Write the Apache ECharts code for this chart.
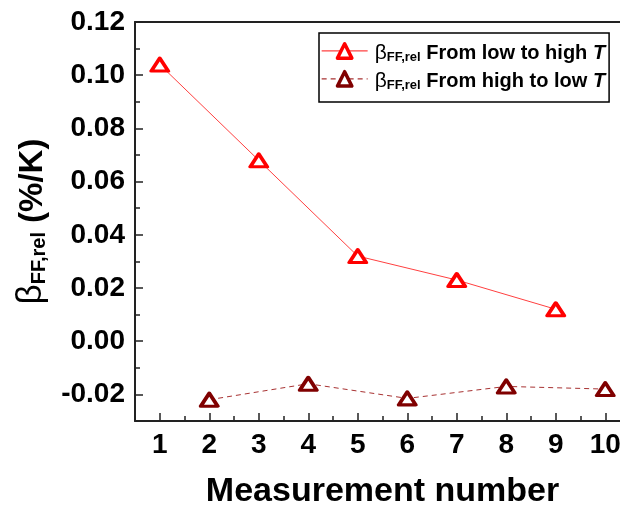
<!DOCTYPE html>
<html>
<head>
<meta charset="utf-8">
<script src="https://cdn.jsdelivr.net/npm/echarts@6/dist/echarts.min.js"></script>
<style>
  html, body { margin: 0; padding: 0; background: #fff; }
  #chart { width: 620px; height: 509px; }
</style>
</head>
<body>
<div id="chart"></div>
<script>
// Measurement numbers and temperature coefficients (%/K)
const upMeasurements = [1, 3, 5, 7, 9];
const upValues = [0.104, 0.068, 0.032, 0.023, 0.012];
const downMeasurements = [2, 4, 6, 8, 10];
const downValues = [-0.022, -0.016, -0.0215, -0.017, -0.018];
const xTickValues = [1, 2, 3, 4, 5, 6, 7, 8, 9, 10];
const yTickValues = [-0.02, 0, 0.02, 0.04, 0.06, 0.08, 0.10, 0.12];
const seriesNames = ['From low to high T', 'From high to low T'];

const FONT = '"Liberation Sans", Arial, sans-serif';

function pairs(xs, ys) { return xs.map((x, i) => [x, ys[i]]); }

const legendRich = {
  beta: { fontFamily: FONT, fontSize: 21, fontWeight: 'normal', color: '#000', verticalAlign: 'bottom', lineHeight: 26 },
  sub: { fontFamily: FONT, fontSize: 13, fontWeight: 'bold', color: '#000', verticalAlign: 'bottom', lineHeight: 20 },
  txt: { fontFamily: FONT, fontSize: 20, fontWeight: 'bold', color: '#000', verticalAlign: 'bottom', lineHeight: 26 },
  it: { fontFamily: FONT, fontSize: 20, fontWeight: 'bold', fontStyle: 'italic', color: '#000', verticalAlign: 'bottom', lineHeight: 26 }
};

const axisFrame = { color: '#222', width: 2 };

const chart = echarts.init(document.getElementById('chart'), null, { renderer: 'canvas' });
chart.setOption({
  backgroundColor: '#fff',
  animation: false,
  grid: { left: 135, top: 22, width: 495, height: 399, containLabel: false, outerBoundsMode: 'none' },
  legend: {
    left: 319, top: 33,
    orient: 'vertical',
    itemWidth: 46, itemHeight: 18, itemGap: 6,
    padding: [9, 4, 10, 2],
    borderColor: '#000', borderWidth: 1.5,
    data: seriesNames,
    itemStyle: { borderWidth: 3.5 },
    lineStyle: { width: 1.3 },
    formatter: function (name) {
      const words = name.slice(0, -1);
      return '{beta|β}{sub|FF,rel}{txt| ' + words + '}{it|T}';
    },
    textStyle: { rich: legendRich, padding: [0, 0, 0, 2] }
  },
  xAxis: [
    {
      type: 'value', min: 0.5, max: 10.5,
      name: 'Measurement number', nameLocation: 'middle', nameGap: 54,
      nameTextStyle: { fontFamily: FONT, fontSize: 34, fontWeight: 'bold', color: '#000' },
      axisLine: { show: true, onZero: false, lineStyle: axisFrame },
      axisTick: { show: true, inside: true, length: 8, customValues: xTickValues, lineStyle: { color: '#222', width: 1.5 } },
      axisLabel: { show: true, customValues: xTickValues, margin: 10, fontFamily: FONT, fontSize: 28, fontWeight: 'bold', color: '#000' },
      splitLine: { show: false }
    },
    {
      // minor ticks at half steps
      type: 'value', min: 0.5, max: 10.5, interval: 0.5, position: 'bottom',
      axisLine: { show: false, onZero: false },
      axisTick: { show: true, inside: true, length: 5, lineStyle: { color: '#222', width: 1.5 } },
      axisLabel: { show: false },
      splitLine: { show: false }
    },
    {
      // top frame
      type: 'value', min: 0.5, max: 10.5, position: 'top',
      axisLine: { show: true, onZero: false, lineStyle: axisFrame },
      axisTick: { show: false }, axisLabel: { show: false }, splitLine: { show: false }
    }
  ],
  yAxis: [
    {
      type: 'value', min: -0.03, max: 0.12,
      name: '{b|β}{s|FF,rel}{u| (%/K)}', nameLocation: 'middle', nameGap: 86, nameRotate: 90,
      nameTextStyle: {
        rich: {
          b: { fontFamily: FONT, fontSize: 35, fontWeight: 'normal', color: '#000', verticalAlign: 'bottom', lineHeight: 40 },
          s: { fontFamily: FONT, fontSize: 20, fontWeight: 'bold', color: '#000', verticalAlign: 'bottom', lineHeight: 30 },
          u: { fontFamily: FONT, fontSize: 33, fontWeight: 'bold', color: '#000', verticalAlign: 'bottom', lineHeight: 40 }
        }
      },
      axisLine: { show: true, onZero: false, lineStyle: axisFrame },
      axisTick: { show: true, inside: true, length: 8, customValues: yTickValues, lineStyle: { color: '#222', width: 1.5 } },
      axisLabel: {
        show: true, customValues: yTickValues, margin: 10,
        fontFamily: FONT, fontSize: 28, fontWeight: 'bold', color: '#000',
        formatter: v => v.toFixed(2)
      },
      splitLine: { show: false }
    },
    {
      // minor ticks at 0.01 steps
      type: 'value', min: -0.03, max: 0.12, interval: 0.01, position: 'left',
      axisLine: { show: false, onZero: false },
      axisTick: { show: true, inside: true, length: 5, lineStyle: { color: '#222', width: 1.5 } },
      axisLabel: { show: false },
      splitLine: { show: false }
    }
  ],
  series: [
    {
      name: seriesNames[0], type: 'line',
      data: pairs(upMeasurements, upValues),
      symbol: 'triangle', symbolSize: [17, 13],
      lineStyle: { color: '#ff4040', width: 1 },
      itemStyle: { color: '#fff', borderColor: '#ff0000', borderWidth: 3.5, borderJoin: 'round' },
      color: '#ff0000',
      z: 3
    },
    {
      name: seriesNames[1], type: 'line',
      data: pairs(downMeasurements, downValues),
      symbol: 'triangle', symbolSize: [17, 13],
      lineStyle: { color: '#a83232', width: 1, type: [5, 4] },
      itemStyle: { color: '#fff', borderColor: '#800000', borderWidth: 3.5, borderJoin: 'round' },
      color: '#800000',
      z: 3
    }
  ]
});
</script>
</body>
</html>
